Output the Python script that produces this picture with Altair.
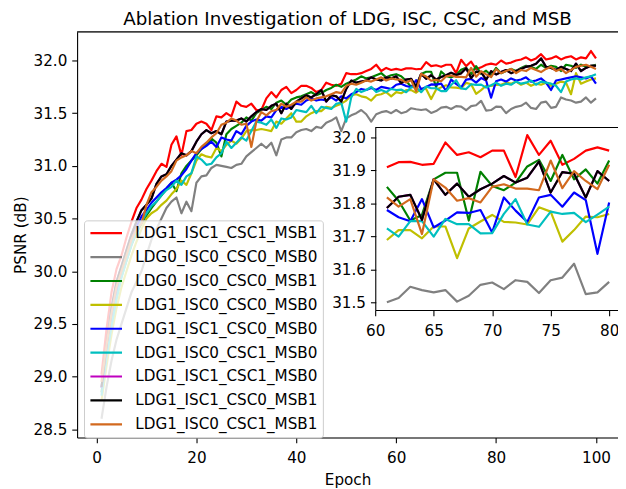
import altair as alt
import pandas as pd

epochs = list(range(1, 101))

names = [
    "LDG1_ISC1_CSC1_MSB1", "LDG0_ISC0_CSC0_MSB0", "LDG0_ISC0_CSC0_MSB1",
    "LDG1_ISC0_CSC0_MSB0", "LDG1_ISC1_CSC0_MSB0", "LDG1_ISC0_CSC1_MSB0",
    "LDG1_ISC1_CSC1_MSB0", "LDG1_ISC1_CSC0_MSB1", "LDG1_ISC0_CSC1_MSB1",
]
colors = ["#ff0000", "#808080", "#008000", "#bfbf00", "#0000ff",
          "#00bfbf", "#bf00bf", "#000000", "#d2691e"]

red = [29.02, 29.45, 29.80, 30.02, 30.15, 30.32, 30.47, 30.60, 30.68, 30.78,
       30.86, 30.95, 31.02, 30.99, 31.20, 31.28, 31.10, 31.33, 31.34, 31.40,
       31.42, 31.40, 31.34, 31.47, 31.46, 31.50, 31.47, 31.61, 31.57, 31.56,
       31.59, 31.53, 31.53, 31.64, 31.70, 31.65, 31.72, 31.75, 31.69, 31.72,
       31.76, 31.76, 31.74, 31.70, 31.72, 31.79, 31.77, 31.76, 31.78, 31.88,
       31.87, 31.87, 31.88, 31.90, 31.92, 31.96, 31.90, 31.93, 31.91, 31.92,
       31.910, 31.925, 31.926, 31.917, 31.920, 31.985, 31.947, 31.955, 31.940, 31.960,
       31.960, 31.880, 32.007, 31.947, 31.990, 31.917, 31.935, 31.960, 31.970, 31.960,
       32.00, 31.97, 31.98, 32.00, 32.01, 32.03, 32.00, 32.02, 32.06, 32.01,
       32.02, 32.04, 32.01, 32.03, 32.04, 32.01, 32.03, 32.02, 32.09, 32.02]

gray = [28.60, 28.90, 29.15, 29.35, 29.50, 29.65, 29.80, 29.90, 30.00, 30.15,
        30.30, 30.40, 30.50, 30.60, 30.66, 30.70, 30.55, 30.66, 30.57, 30.84,
        30.90, 30.91, 30.98, 31.01, 31.00, 30.99, 30.98, 31.01, 31.02, 31.09,
        31.13, 31.17, 31.21, 31.17, 31.22, 31.10, 31.25, 31.27, 31.27, 31.32,
        31.34, 31.35, 31.33, 31.37, 31.36, 31.41, 31.43, 31.46, 31.33, 31.45,
        31.48, 31.50, 31.53, 31.49, 31.42, 31.49, 31.51, 31.52, 31.50, 31.53,
        31.500, 31.513, 31.547, 31.537, 31.530, 31.537, 31.502, 31.520, 31.553, 31.560,
        31.540, 31.567, 31.562, 31.528, 31.567, 31.575, 31.617, 31.525, 31.530, 31.562,
        31.56, 31.50, 31.54, 31.56, 31.57, 31.60, 31.55, 31.54, 31.60, 31.61,
        31.55, 31.56, 31.65, 31.63, 31.62, 31.60, 31.61, 31.65, 31.60, 31.64]

green = [28.85, 29.20, 29.50, 29.75, 29.95, 30.10, 30.25, 30.36, 30.45, 30.53,
         30.60, 30.66, 30.72, 30.78, 30.84, 30.76, 30.93, 31.00, 31.05, 31.10,
         31.16, 31.20, 31.26, 31.22, 31.09, 31.30, 31.35, 31.38, 31.41, 31.46,
         31.43, 31.50, 31.53, 31.56, 31.54, 31.60, 31.62, 31.58, 31.63, 31.65,
         31.66, 31.68, 31.70, 31.67, 31.69, 31.72, 31.74, 31.77, 31.75, 31.78,
         31.80, 31.82, 31.85, 31.83, 31.84, 31.86, 31.88, 31.84, 31.86, 31.87,
         31.850, 31.808, 31.748, 31.765, 31.873, 31.893, 31.893, 31.748, 31.896, 31.853,
         31.840, 31.863, 31.912, 31.932, 31.868, 31.947, 31.873, 31.903, 31.860, 31.930,
         31.88, 31.90, 31.92, 31.90, 31.93, 31.95, 31.94, 31.92, 31.96, 31.93,
         31.95, 31.94, 31.90, 31.96, 31.95, 31.93, 31.96, 31.94, 31.95, 31.96]

yellow = [28.77, 29.10, 29.40, 29.65, 29.85, 30.00, 30.15, 30.28, 30.40, 30.50,
          30.55, 30.58, 30.63, 30.67, 30.73, 30.78, 30.86, 30.82, 30.93, 31.05,
          31.11, 31.09, 31.08, 31.17, 31.14, 31.20, 31.24, 31.21, 31.26, 31.33,
          31.34, 31.34, 31.35, 31.34, 31.33, 31.42, 31.40, 31.45, 31.50, 31.42,
          31.42, 31.47, 31.50, 31.52, 31.52, 31.56, 31.55, 31.57, 31.59, 31.62,
          31.67, 31.68, 31.66, 31.65, 31.62, 31.67, 31.68, 31.70, 31.66, 31.70,
          31.689, 31.719, 31.719, 31.694, 31.730, 31.730, 31.634, 31.724, 31.745, 31.765,
          31.744, 31.742, 31.736, 31.788, 31.775, 31.684, 31.719, 31.760, 31.758, 31.768,
          31.77, 31.79, 31.78, 31.80, 31.77, 31.79, 31.76, 31.78, 31.77, 31.79,
          31.76, 31.78, 31.80, 31.79, 31.68, 31.88, 31.78, 31.80, 31.82, 31.83]

blue = [28.89, 29.25, 29.55, 29.80, 30.00, 30.15, 30.30, 30.42, 30.52, 30.58,
        30.65, 30.70, 30.75, 30.79, 30.84, 30.87, 30.91, 30.97, 31.05, 31.12,
        31.16, 31.19, 31.23, 31.18, 31.27, 31.25, 31.24, 31.33, 31.30, 31.38,
        31.42, 31.44, 31.43, 31.47, 31.46, 31.53, 31.56, 31.54, 31.57, 31.59,
        31.58, 31.62, 31.64, 31.62, 31.63, 31.62, 31.65, 31.62, 31.66, 31.64,
        31.68, 31.70, 31.73, 31.72, 31.74, 31.72, 31.75, 31.74, 31.73, 31.77,
        31.780, 31.758, 31.746, 31.813, 31.727, 31.748, 31.773, 31.771, 31.780, 31.712,
        31.818, 31.778, 31.744, 31.818, 31.826, 31.790, 31.833, 31.810, 31.647, 31.803,
        31.82, 31.80, 31.83, 31.81, 31.82, 31.84, 31.80, 31.81, 31.83, 31.79,
        31.72, 31.81, 31.82, 31.83, 31.84, 31.85, 31.84, 31.83, 31.85, 31.78]

cyan = [28.82, 29.18, 29.48, 29.74, 29.94, 30.10, 30.25, 30.38, 30.47, 30.55,
        30.62, 30.66, 30.72, 30.77, 30.80, 30.86, 30.82, 30.90, 30.93, 31.09,
        31.06, 31.01, 31.02, 31.08, 31.12, 31.23, 31.17, 31.22, 31.27, 31.24,
        31.33, 31.42, 31.41, 31.39, 31.44, 31.36, 31.45, 31.44, 31.46, 31.53,
        31.52, 31.51, 31.57, 31.50, 31.56, 31.55, 31.54, 31.59, 31.60, 31.42,
        31.65, 31.73, 31.70, 31.72, 31.75, 31.70, 31.72, 31.70, 31.73, 31.72,
        31.724, 31.699, 31.746, 31.746, 31.699, 31.753, 31.737, 31.737, 31.709, 31.710,
        31.768, 31.813, 31.736, 31.729, 31.775, 31.768, 31.771, 31.743, 31.766, 31.790,
        31.76, 31.78, 31.77, 31.80, 31.78, 31.79, 31.81, 31.77, 31.80, 31.79,
        31.78, 31.76, 31.70, 31.80, 31.82, 31.83, 31.82, 31.84, 31.85, 31.87]

black = [28.90, 29.30, 29.65, 29.90, 30.05, 30.20, 30.35, 30.47, 30.58, 30.63,
         30.69, 30.83, 30.90, 30.92, 31.00, 31.06, 31.12, 31.10, 31.14, 31.23,
         31.30, 31.34, 31.31, 31.33, 31.30, 31.42, 31.43, 31.43, 31.45, 31.42,
         31.47, 31.51, 31.54, 31.53, 31.57, 31.59, 31.50, 31.59, 31.54, 31.61,
         31.64, 31.67, 31.65, 31.68, 31.72, 31.61, 31.67, 31.66, 31.61, 31.73,
         31.81, 31.79, 31.80, 31.81, 31.84, 31.82, 31.81, 31.84, 31.83, 31.85,
         31.786, 31.820, 31.826, 31.750, 31.873, 31.826, 31.860, 31.820, 31.843, 31.860,
         31.883, 31.863, 31.878, 31.927, 31.833, 31.895, 31.890, 31.818, 31.898, 31.868,
         31.89, 31.91, 31.88, 31.90, 31.92, 31.94, 31.95, 31.97, 32.02, 31.94,
         31.93, 31.91, 31.94, 31.92, 31.90, 31.97, 31.90, 31.93, 31.95, 31.95]

# the magenta run is completely hidden under the black run in the reference
magenta = list(black)

orange = [28.95, 29.30, 29.60, 29.85, 30.00, 30.15, 30.30, 30.40, 30.45, 30.63,
          30.75, 30.80, 30.86, 30.90, 30.95, 31.05, 31.08, 31.10, 31.14, 31.12,
          31.18, 31.22, 31.27, 31.31, 31.39, 31.41, 31.45, 31.43, 31.39, 31.40,
          31.18, 31.42, 31.51, 31.48, 31.52, 31.53, 31.59, 31.56, 31.58, 31.61,
          31.61, 31.65, 31.62, 31.64, 31.65, 31.66, 31.68, 31.70, 31.69, 31.76,
          31.78, 31.77, 31.79, 31.81, 31.80, 31.82, 31.84, 31.81, 31.83, 31.82,
          31.818, 31.790, 31.813, 31.707, 31.873, 31.848, 31.808, 31.816, 31.803, 31.850,
          31.858, 31.845, 31.845, 31.840, 31.930, 31.846, 31.898, 31.868, 31.843, 31.917,
          31.88, 31.90, 31.92, 31.88, 31.91, 31.90, 31.93, 31.91, 31.89, 31.92,
          31.94, 31.90, 31.92, 31.88, 31.91, 31.94, 31.95, 31.96, 31.94, 31.92]

series = [red, gray, green, yellow, blue, cyan, magenta, black, orange]

main_xticks = [0, 20, 40, 60, 80, 100]
main_yticks = [28.5, 29.0, 29.5, 30.0, 30.5, 31.0, 31.5, 32.0]
inset_xticks = [60, 65, 70, 75, 80]
inset_yticks = [31.5, 31.6, 31.7, 31.8, 31.9, 32.0]
inset_first, inset_last = 61, 80
title_text = ["Ablation Investigation of LDG, ISC, CSC, and MSB"]

frames = []
for n, vals in zip(names, series):
    frames.append(pd.DataFrame({"epoch": epochs, "psnr": vals, "run": n}))
df = pd.concat(frames, ignore_index=True)
inset_df = df[(df.epoch >= inset_first) & (df.epoch <= inset_last)]
title_df = pd.DataFrame({"t": title_text})

FONT = "DejaVu Sans"
FS = 15.4
W, H = 548, 411

color_scale = alt.Scale(domain=names, range=colors)
legend = alt.Legend(
    title=None, orient="none", legendX=7, legendY=191,
    symbolType="stroke", symbolSize=1024, symbolStrokeWidth=2.2,
    labelFontSize=FS, labelFont=FONT, labelColor="black", labelLimit=400,
    clipHeight=16, rowPadding=7.2, labelOffset=12, padding=5,
    fillColor="rgba(255,255,255,0.8)", strokeColor="#cccccc", cornerRadius=3,
)

ax_common = dict(grid=False, tickSize=5.4, tickWidth=1.1, tickColor="black",
                 domainColor="black", domainWidth=1.1, labelFontSize=FS,
                 labelFont=FONT, labelColor="black",
                 labelFlush=False, labelOverlap=False)

main_x = alt.X("epoch:Q",
               scale=alt.Scale(domain=[-3.89, 104.41], nice=False, zero=False),
               axis=alt.Axis(values=main_xticks, title="Epoch", titleFontSize=FS,
                             titleFont=FONT, titleFontWeight="normal",
                             titleColor="black", titlePadding=7, labelPadding=8,
                             **ax_common))
main_y = alt.Y("psnr:Q",
               scale=alt.Scale(domain=[28.422, 32.272], nice=False, zero=False),
               axis=alt.Axis(values=main_yticks, format=".1f", title="PSNR (dB)",
                             titleFontSize=FS, titleFont=FONT,
                             titleFontWeight="normal", titleColor="black",
                             titlePadding=5, labelPadding=5, **ax_common))
color = alt.Color("run:N", scale=color_scale, legend=legend)

main_layers = []
for n in names:
    main_layers.append(
        alt.Chart(df).transform_filter(alt.datum.run == n)
        .mark_line(strokeWidth=2.2, strokeJoin="round")
        .encode(x=main_x, y=main_y, color=color)
    )
top_spine = alt.Chart(title_df).mark_rule(color="black", strokeWidth=1.1).encode(
    x=alt.value(0), x2=alt.value(W), y=alt.value(0))
title_mark = alt.Chart(title_df).mark_text(
    font=FONT, fontSize=18.5, color="black",
    align="center", baseline="alphabetic").encode(
    text="t:N", x=alt.value(274), y=alt.value(-6.5))
main_group = alt.layer(*main_layers, top_spine, title_mark)

ix_dom = [60.05, 80.95]
iy_dom = [31.475, 32.03]
ix_rng = [302.6, 550.3]
iy_rng = [282.35, 96.98]

inset_ax_common = dict(ax_common)
inset_ax_common["domain"] = False

inset_x = alt.X("epoch:Q",
                scale=alt.Scale(domain=ix_dom, range=ix_rng, nice=False, zero=False),
                axis=alt.Axis(values=inset_xticks, title=None, orient="bottom",
                              offset=iy_rng[0] - H, zindex=1, labelPadding=8,
                              **inset_ax_common))
inset_y = alt.Y("psnr:Q",
                scale=alt.Scale(domain=iy_dom, range=iy_rng, nice=False, zero=False),
                axis=alt.Axis(values=inset_yticks, format=".1f", title=None,
                              orient="left", offset=-ix_rng[0], zindex=1,
                              labelPadding=5, **inset_ax_common))

inset_box = alt.Chart(title_df).mark_rect(fill="white", stroke="black",
                                           strokeWidth=1.1).encode(
    x=alt.X(datum=ix_dom[0], scale=alt.Scale(domain=ix_dom, range=ix_rng, nice=False, zero=False)),
    x2=alt.X2(datum=ix_dom[1]),
    y=alt.Y(datum=iy_dom[0], scale=alt.Scale(domain=iy_dom, range=iy_rng, nice=False, zero=False)),
    y2=alt.Y2(datum=iy_dom[1]),
)
inset_layers = []
for n in names:
    inset_layers.append(
        alt.Chart(inset_df).transform_filter(alt.datum.run == n)
        .mark_line(strokeWidth=2.2, strokeJoin="round")
        .encode(x=inset_x, y=inset_y, color=color)
    )
inset_group = alt.layer(inset_box, *inset_layers)

chart = (
    alt.layer(main_group, inset_group)
    .resolve_scale(x="independent", y="independent")
    .properties(
        width=W, height=H,
        autosize=alt.AutoSizeParams(type="none"),
        padding={"left": 70, "top": 21, "right": 0, "bottom": 49},
    )
    .configure_view(stroke=None)
    .configure(background="white")
)

chart.save("out.html", embed_options={"renderer": "svg", "actions": False})
